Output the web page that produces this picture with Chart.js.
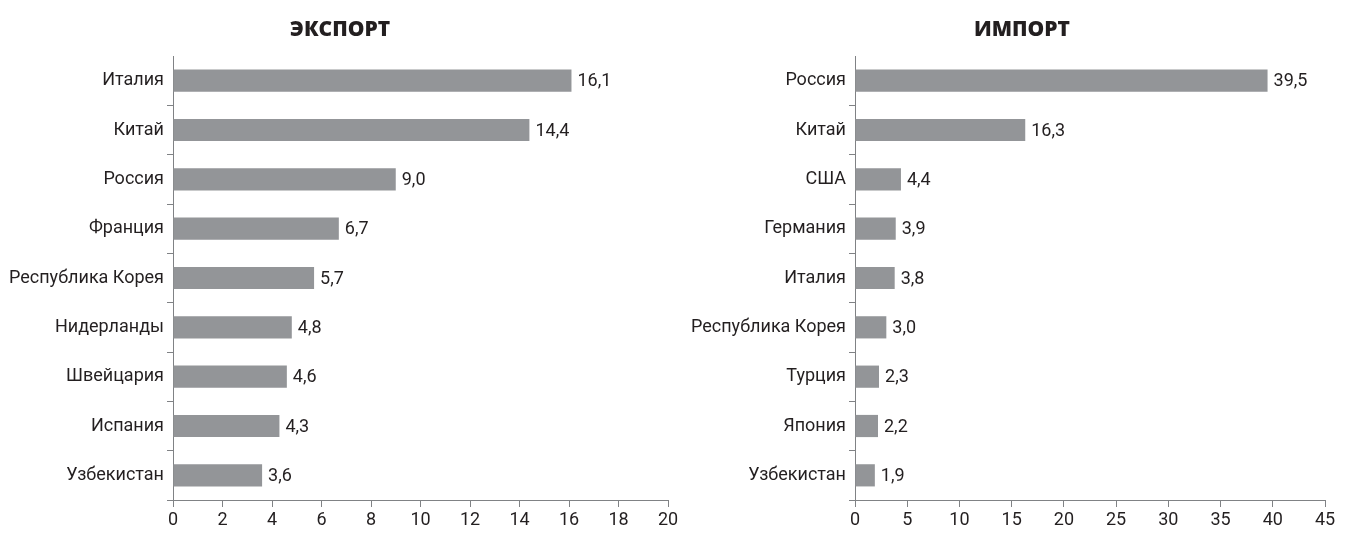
<!DOCTYPE html>
<html>
<head>
<meta charset="utf-8">
<script src="https://cdn.jsdelivr.net/npm/chart.js@4.4.1/dist/chart.umd.min.js"></script>
<style>
  html, body { margin: 0; padding: 0; background: #ffffff; }
  #wrap { position: relative; width: 1355px; height: 534px; overflow: hidden; }
  #c1 { position: absolute; left: 0; top: 0; }
  #c2 { position: absolute; left: 690px; top: 0; }
</style>
</head>
<body>
<div id="wrap">
  <canvas id="c1" width="690" height="534"></canvas>
  <canvas id="c2" width="665" height="534"></canvas>
</div>
<script>
const exportTitle = "ЭКСПОРТ";
const exportCategories = ["Италия", "Китай", "Россия", "Франция", "Республика Корея", "Нидерланды", "Швейцария", "Испания", "Узбекистан"];
const exportValues = [16.1, 14.4, 9.0, 6.7, 5.7, 4.8, 4.6, 4.3, 3.6];
const exportTicks = { min: 0, max: 20, step: 2 };

const importTitle = "ИМПОРТ";
const importCategories = ["Россия", "Китай", "США", "Германия", "Италия", "Республика Корея", "Турция", "Япония", "Узбекистан"];
const importValues = [39.5, 16.3, 4.4, 3.9, 3.8, 3.0, 2.3, 2.2, 1.9];
const importTicks = { min: 0, max: 45, step: 5 };

const FONT = '"Roboto", "Liberation Sans", sans-serif';
const TITLE_FONT = '800 21px "Open Sans", "DejaVu Sans", sans-serif';
const TEXT = '#231f20';
const AXIS = '#808285';
const BAR = '#939598';

const valueLabels = {
  id: 'valueLabels',
  afterDatasetsDraw(chart) {
    const ctx = chart.ctx;
    const meta = chart.getDatasetMeta(0);
    const data = chart.data.datasets[0].data;
    ctx.save();
    ctx.font = '18px ' + FONT;
    ctx.fillStyle = TEXT;
    ctx.textAlign = 'left';
    ctx.textBaseline = 'middle';
    meta.data.forEach((bar, i) => {
      const txt = data[i].toFixed(1).replace('.', ',');
      ctx.fillText(txt, bar.x + 6, bar.y + 1);
    });
    ctx.restore();
  }
};

const fixedTitle = {
  id: 'fixedTitle',
  afterDraw(chart, args, opts) {
    const ctx = chart.ctx;
    ctx.save();
    ctx.font = TITLE_FONT;
    ctx.fillStyle = TEXT;
    ctx.textAlign = 'center';
    ctx.textBaseline = 'middle';
    ctx.fillText(opts.text, opts.cx, opts.cy);
    ctx.restore();
  }
};

function makeChart(id, title, titleX, cats, vals, ticks, yWidth, padRight) {
  return new Chart(document.getElementById(id), {
    type: 'bar',
    data: {
      labels: cats,
      datasets: [{
        data: vals,
        backgroundColor: BAR,
        borderWidth: 0,
        barPercentage: 0.9,
        categoryPercentage: 0.5
      }]
    },
    options: {
      indexAxis: 'y',
      responsive: false,
      animation: false,
      events: [],
      layout: { padding: { left: 0, right: padRight, top: 56, bottom: 0 } },
      plugins: {
        legend: { display: false },
        tooltip: { enabled: false },
        title: { display: false },
        fixedTitle: { text: title, cx: titleX, cy: 30 }
      },
      scales: {
        x: {
          min: ticks.min,
          max: ticks.max,
          border: { display: true, color: AXIS, width: 1 },
          grid: { drawOnChartArea: false, drawTicks: true, tickLength: 7, color: AXIS },
          ticks: {
            stepSize: ticks.step,
            color: TEXT,
            padding: 3,
            font: { family: FONT, size: 18 },
            maxRotation: 0
          },
          afterFit(scale) { scale.height = 34; }
        },
        y: {
          border: { display: true, color: AXIS, width: 1 },
          grid: {
            offset: true,
            drawOnChartArea: false,
            drawTicks: true,
            tickLength: 6,
            color: (c) => (c.index === 0 ? 'rgba(0,0,0,0)' : AXIS)
          },
          ticks: {
            color: TEXT,
            padding: 3,
            font: { family: FONT, size: 18 }
          },
          afterFit(scale) { scale.width = yWidth; }
        }
      }
    },
    plugins: [valueLabels, fixedTitle]
  });
}

makeChart('c1', exportTitle, 340, exportCategories, exportValues, exportTicks, 173, 22);
makeChart('c2', importTitle, 332, importCategories, importValues, importTicks, 165, 30);
</script>
</body>
</html>
